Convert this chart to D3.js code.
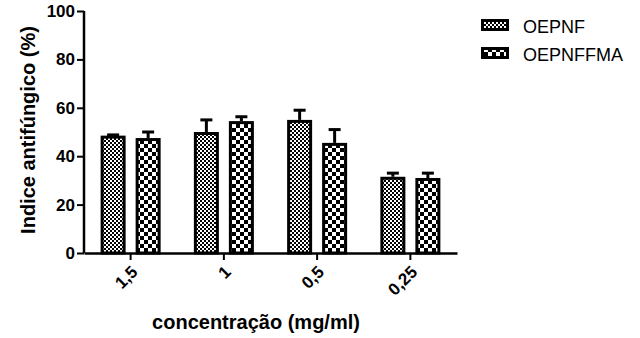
<!DOCTYPE html>
<html><head><meta charset="utf-8">
<script src="https://cdn.jsdelivr.net/npm/d3@7"></script>
<style>body{margin:0;background:#fff}svg{display:block}</style>
</head><body>
<svg id="c" width="640" height="338"></svg>
<script>
const categories = ["1,5", "1", "0,5", "0,25"];
const seriesNames = ["OEPNF", "OEPNFFMA"];
const oepnf = [48.5, 50, 55, 31.5];
const oepnfErr = [0.3, 5, 4, 1.5];
const oepnffma = [47.5, 54.5, 45.5, 31];
const oepnffmaErr = [2.5, 1.8, 5.5, 2];
const yTicks = [0, 20, 40, 60, 80, 100];

const FONT = "Liberation Sans, Arial, sans-serif";
const svg = d3.select("#c");
const defs = svg.append("defs");
// fine checker
const p1 = defs.append("pattern").attr("id","p1").attr("width",4).attr("height",4).attr("patternUnits","userSpaceOnUse");
p1.append("rect").attr("width",4).attr("height",4).attr("fill","#fff");
p1.append("rect").attr("width",2).attr("height",2).attr("fill","#000");
p1.append("rect").attr("x",2).attr("y",2).attr("width",2).attr("height",2).attr("fill","#000");
// coarse checker
const p2 = defs.append("pattern").attr("id","p2").attr("width",8).attr("height",8).attr("patternUnits","userSpaceOnUse");
p2.append("rect").attr("width",8).attr("height",8).attr("fill","#fff");
p2.append("rect").attr("width",4).attr("height",4).attr("fill","#000");
p2.append("rect").attr("x",4).attr("y",4).attr("width",4).attr("height",4).attr("fill","#000");
const pats = ["url(#p1)", "url(#p2)"];

const x0 = 84, x1 = 457, yTop = 11, yBot = 253;
const x = d3.scaleBand().domain(categories).range([x0, x1]);
const y = d3.scaleLinear().domain([0, 100]).range([yBot, yTop]);
const xs = d3.scaleBand().domain([0,1]).range([-30, 30]).paddingInner(0.286);

const data = [];
categories.forEach((c,i)=>{
  data.push({c, s:0, v:oepnf[i], e:oepnfErr[i]});
  data.push({c, s:1, v:oepnffma[i], e:oepnffmaErr[i]});
});

const g = svg.append("g");
// error bars
data.forEach(d=>{
  const cx = x(d.c) + x.bandwidth()/2 + xs(d.s) + xs.bandwidth()/2;
  g.append("line").attr("x1",cx).attr("x2",cx).attr("y1",y(d.v)).attr("y2",y(d.v+d.e)).attr("stroke","#000").attr("stroke-width",3);
  g.append("line").attr("x1",cx-6).attr("x2",cx+6).attr("y1",y(d.v+d.e)).attr("y2",y(d.v+d.e)).attr("stroke","#000").attr("stroke-width",3);
});
// bars
g.selectAll("rect.bar").data(data).enter().append("rect")
  .attr("class","bar")
  .attr("x", d=> x(d.c) + x.bandwidth()/2 + xs(d.s) + 1.5)
  .attr("width", xs.bandwidth() - 3)
  .attr("y", d=> y(d.v) + 1.5)
  .attr("height", d=> y(0) - y(d.v) - 1.5)
  .attr("fill", d=> pats[d.s])
  .attr("stroke","#000").attr("stroke-width",3);

// y axis
const yAxis = g.append("g").attr("transform",`translate(${x0},0)`)
  .call(d3.axisLeft(y).tickValues(yTicks).tickSize(7).tickPadding(2));
yAxis.select(".domain").attr("stroke-width",2.5).attr("d",`M0,${yTop}V${yBot}`);
yAxis.selectAll(".tick line").attr("stroke-width",2);
yAxis.selectAll("text").attr("font-family",FONT).attr("font-weight","bold").attr("font-size",17).attr("fill","#000");

// x axis
const xAxis = g.append("g").attr("transform",`translate(0,${yBot})`)
  .call(d3.axisBottom(x).tickSize(7).tickSizeOuter(0));
xAxis.select(".domain").attr("stroke-width",2.5);
xAxis.selectAll(".tick line").attr("stroke-width",2);
xAxis.selectAll("text")
  .attr("font-family",FONT).attr("font-weight","bold").attr("font-size",17).attr("fill","#000")
  .attr("text-anchor","end").attr("dy",null).attr("y",0)
  .attr("transform","translate(8,20) rotate(-45)");

// axis titles
svg.append("text").attr("x",256).attr("y",329).attr("text-anchor","middle")
  .attr("font-family",FONT).attr("font-weight","bold").attr("font-size",20)
  .text("concentração (mg/ml)");
svg.append("text").attr("transform","translate(35,130) rotate(-90)").attr("text-anchor","middle")
  .attr("font-family",FONT).attr("font-weight","bold").attr("font-size",20)
  .text("Indice antifúngico (%)");

// legend
const lg = svg.append("g");
seriesNames.forEach((n,i)=>{
  const ly = 19 + i*28;
  lg.append("rect").attr("x",482.5).attr("y",ly+1.5).attr("width",25).attr("height",9)
    .attr("fill",pats[i]).attr("stroke","#000").attr("stroke-width",3);
  lg.append("text").attr("x",523).attr("y",ly+13.5).attr("font-family",FONT)
    .attr("font-size",18).attr("fill","#000").text(n);
});
</script>
</body></html>
